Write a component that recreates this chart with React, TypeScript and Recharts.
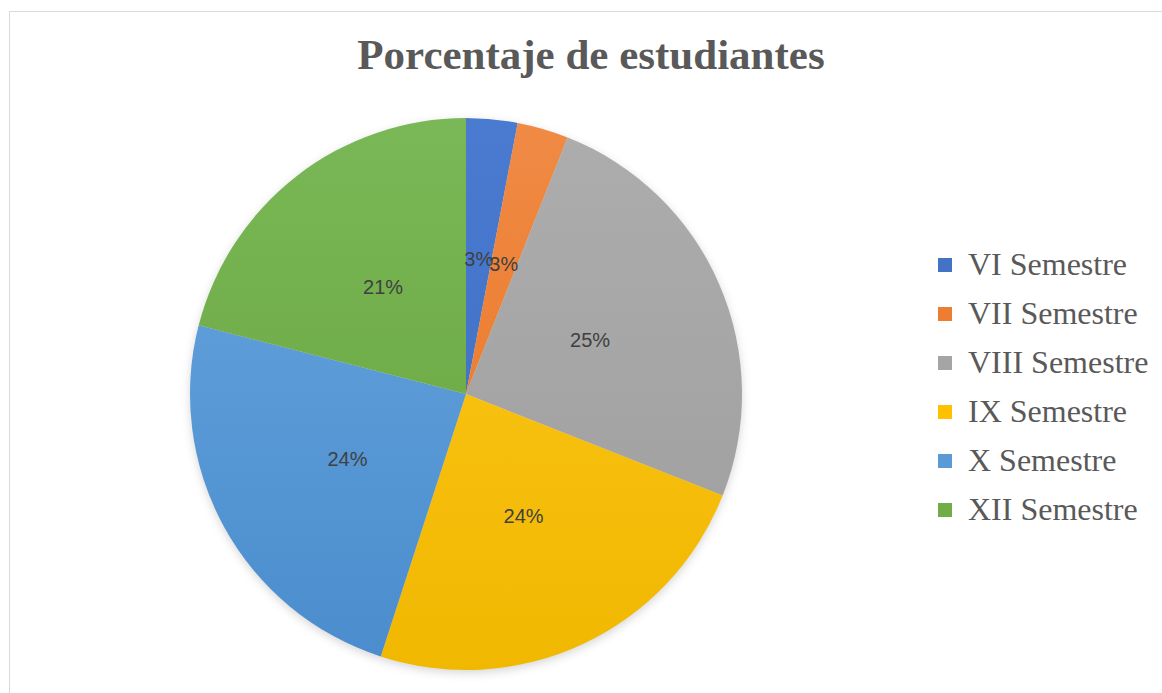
import React from "react";
import { PieChart, Pie, Cell, Legend } from "recharts";

const categories = ["VI Semestre", "VII Semestre", "VIII Semestre", "IX Semestre", "X Semestre", "XII Semestre"];
const values = [3, 3, 25, 24, 24, 21];
const colorsTop = ["#4a7bd0", "#f08a45", "#adadad", "#ffc81e", "#68a6df", "#7ab756"];
const colorsBottom = ["#3d6bbf", "#e8731f", "#9d9d9d", "#f0b800", "#4a8ccd", "#66a43d"];
const legendColors = ["#4472C4", "#ED7D31", "#A5A5A5", "#FFC000", "#5B9BD5", "#70AD47"];
const title = "Porcentaje de estudiantes";

const data = categories.map((name, i) => ({ name, value: values[i] }));

const RAD = Math.PI / 180;

const renderLabel = (props: any) => {
  const { cx, cy, midAngle, outerRadius, percent } = props;
  const r = outerRadius * 0.49;
  const x = cx + r * Math.cos(-midAngle * RAD);
  const y = cy + r * Math.sin(-midAngle * RAD);
  return (
    <text
      x={x}
      y={y}
      fill="#404040"
      fontSize={20}
      fontFamily="'Liberation Sans', Arial, sans-serif"
      textAnchor="middle"
      dominantBaseline="central"
    >
      {`${Math.round(percent * 100)}%`}
    </text>
  );
};

const renderLegend = () => (
  <div>
    {categories.map((c, i) => (
      <div key={c} style={{ display: "flex", alignItems: "center", height: 49 }}>
        <div style={{ width: 14, height: 14, background: legendColors[i], marginRight: 16 }} />
        <span
          style={{
            fontFamily: "'Liberation Serif', 'Times New Roman', serif",
            fontSize: 32,
            color: "#595959",
            whiteSpace: "nowrap",
          }}
        >
          {c}
        </span>
      </div>
    ))}
  </div>
);

export default function App() {
  return (
    <div style={{ position: "absolute", left: 0, top: 0, width: 1162, height: 693, background: "#fff", overflow: "hidden" }}>
      <style>{`.pie-shadow{filter: blur(3px) opacity(0.4);}`}</style>
      <div
        style={{
          position: "absolute",
          left: 9,
          top: 11,
          width: 1200,
          height: 800,
          border: "1px solid #d9d9d9",
          boxSizing: "border-box",
        }}
      />
      <div
        style={{
          position: "absolute",
          left: 0,
          width: 1182,
          top: 30,
          textAlign: "center",
          fontFamily: "'Liberation Serif', 'Times New Roman', serif",
          fontWeight: "bold",
          fontSize: 43,
          lineHeight: "50px",
          color: "#595959",
        }}
      >
        {title}
      </div>
      <div style={{ position: "absolute", left: 0, top: 0 }}>
        <PieChart width={1162} height={693} margin={{ top: 0, right: 0, bottom: 0, left: 0 }}>
          <defs>
            {categories.map((c, i) => (
              <linearGradient key={c} id={`g${i}`} gradientUnits="userSpaceOnUse" x1={0} y1={118} x2={0} y2={670}>
                <stop offset="0%" stopColor={colorsTop[i]} />
                <stop offset="100%" stopColor={colorsBottom[i]} />
              </linearGradient>
            ))}
          </defs>
          <Pie
            data={data}
            dataKey="value"
            nameKey="name"
            cx={466}
            cy={397}
            outerRadius={276}
            startAngle={90}
            endAngle={-270}
            stroke="none"
            fill="#000"
            className="pie-shadow"
            label={false}
            labelLine={false}
            isAnimationActive={false}
            legendType="none"
          />
          <Pie
            data={data}
            dataKey="value"
            nameKey="name"
            cx={466}
            cy={394}
            outerRadius={276}
            startAngle={90}
            endAngle={-270}
            stroke="none"
            label={renderLabel}
            labelLine={false}
            isAnimationActive={false}
          >
            {data.map((d, i) => (
              <Cell key={d.name} fill={`url(#g${i})`} />
            ))}
          </Pie>
          <Legend
            content={renderLegend}
            layout="vertical"
            wrapperStyle={{ position: "absolute", left: 938, top: 240, width: 224 }}
          />
        </PieChart>
      </div>
    </div>
  );
}
